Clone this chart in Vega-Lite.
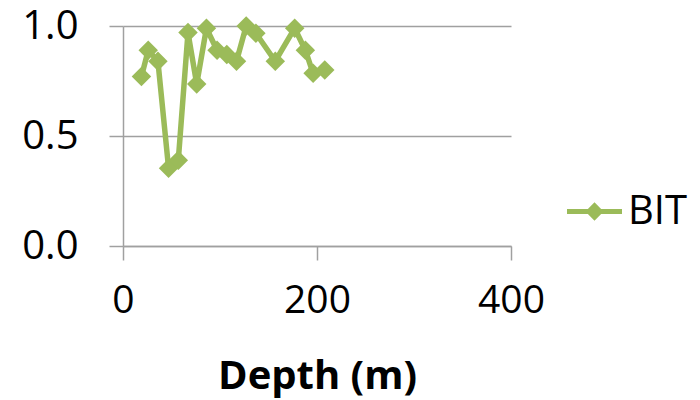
{
  "$schema": "https://vega.github.io/schema/vega-lite/v6.json",
  "width": 388,
  "height": 220,
  "autosize": {"type": "none"},
  "padding": {"left": 123, "top": 26, "right": 189, "bottom": 154},
  "background": "white",
  "config": {
    "view": {"stroke": null},
    "font": "Open Sans"
  },
  "data": {
    "values": [
      {"depth": 19, "BIT": 0.77, "series": "BIT"},
      {"depth": 26, "BIT": 0.89, "series": "BIT"},
      {"depth": 36, "BIT": 0.84, "series": "BIT"},
      {"depth": 47, "BIT": 0.353, "series": "BIT"},
      {"depth": 57, "BIT": 0.39, "series": "BIT"},
      {"depth": 67, "BIT": 0.97, "series": "BIT"},
      {"depth": 76, "BIT": 0.736, "series": "BIT"},
      {"depth": 86, "BIT": 0.99, "series": "BIT"},
      {"depth": 97, "BIT": 0.89, "series": "BIT"},
      {"depth": 107, "BIT": 0.87, "series": "BIT"},
      {"depth": 117, "BIT": 0.84, "series": "BIT"},
      {"depth": 127, "BIT": 1.0, "series": "BIT"},
      {"depth": 137, "BIT": 0.967, "series": "BIT"},
      {"depth": 157, "BIT": 0.84, "series": "BIT"},
      {"depth": 177, "BIT": 0.99, "series": "BIT"},
      {"depth": 188, "BIT": 0.89, "series": "BIT"},
      {"depth": 196, "BIT": 0.785, "series": "BIT"},
      {"depth": 208, "BIT": 0.80, "series": "BIT"}
    ]
  },
  "encoding": {
    "x": {
      "field": "depth",
      "type": "quantitative",
      "scale": {"domain": [0, 400], "nice": false},
      "axis": {
        "title": "Depth (m)",
        "values": [0, 200, 400],
        "grid": false,
        "domainColor": "#A0A0A0",
        "domainWidth": 1.5,
        "tickColor": "#A0A0A0",
        "tickWidth": 1.5,
        "tickSize": 14,
        "labelFont": "Open Sans",
        "labelFontSize": 39,
        "labelColor": "#000000",
        "labelBaseline": "alphabetic",
        "labelPadding": 52,
        "labelFlush": false,
        "titleFont": "Open Sans",
        "titleFontSize": 40,
        "titleFontWeight": "bold",
        "titleColor": "#000000",
        "titleBaseline": "alphabetic",
        "titleY": 142,
        "titleX": 194
      }
    },
    "y": {
      "field": "BIT",
      "type": "quantitative",
      "scale": {"domain": [0, 1], "nice": false},
      "axis": {
        "title": null,
        "values": [0, 0.5, 1],
        "format": ".1f",
        "grid": true,
        "gridColor": "#A0A0A0",
        "gridWidth": 1.5,
        "domainColor": "#A0A0A0",
        "domainWidth": 1.5,
        "tickColor": "#A0A0A0",
        "tickWidth": 1.5,
        "tickSize": 14,
        "labelFont": "Open Sans",
        "labelFontSize": 40,
        "labelColor": "#000000",
        "labelPadding": 31,
        "labelFlush": false
      }
    },
    "color": {
      "field": "series",
      "type": "nominal",
      "scale": {"range": ["#9BBB59"]},
      "legend": {
        "title": null,
        "orient": "none",
        "legendX": 444,
        "legendY": 158,
        "padding": 0,
        "symbolType": "M-1,-0.09 L1,-0.09 L1,0.09 L-1,0.09 Z M-0.33,0 L0,-0.34 L0.33,0 L0,0.34 Z",
        "symbolSize": 3025,
        "labelFont": "Open Sans",
        "labelFontSize": 40,
        "labelColor": "#000000",
        "labelOffset": 6,
        "encode": {
          "symbols": {
            "update": {
              "fill": {"value": "#9BBB59"},
              "stroke": {"value": "transparent"},
              "strokeWidth": {"value": 0},
              "opacity": {"value": 1}
            }
          }
        }
      }
    }
  },
  "layer": [
    {
      "mark": {"type": "line", "strokeWidth": 5.5, "strokeJoin": "round"}
    },
    {
      "mark": {"type": "point", "shape": "diamond", "filled": true, "size": 380, "opacity": 1}
    }
  ]
}
